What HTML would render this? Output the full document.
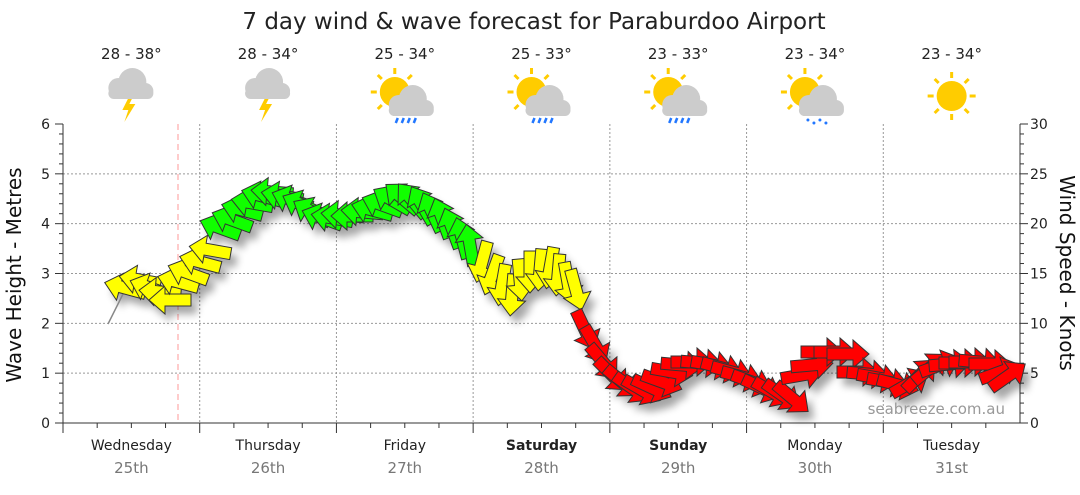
<!DOCTYPE html>
<html><head><meta charset="utf-8"><style>
body{margin:0;background:#fff;}
svg text{font-family:"DejaVu Sans","Liberation Sans",sans-serif;}
</style></head><body>
<svg id="s" width="1080" height="490" xmlns="http://www.w3.org/2000/svg">
<defs>
<filter id="sh" x="-20%" y="-20%" width="140%" height="160%"><feGaussianBlur stdDeviation="4"/></filter>
<g id="sun"><g stroke="#fc0" stroke-width="3"><line x1="0" y1="-24" x2="0" y2="-18"/><line x1="0" y1="24" x2="0" y2="18"/><line x1="-24" y1="0" x2="-18" y2="0"/><line x1="24" y1="0" x2="18" y2="0"/><line x1="-17" y1="-17" x2="-13" y2="-13"/><line x1="17" y1="17" x2="13" y2="13"/><line x1="-17" y1="17" x2="-13" y2="13"/><line x1="17" y1="-17" x2="13" y2="-13"/></g><circle r="15" fill="#fc0"/></g>
<g id="cloud" fill="#ccc"><circle cx="-9" cy="2" r="10"/><circle cx="5" cy="-4" r="14"/><circle cx="18" cy="5" r="8"/><rect x="-19" y="2" width="45" height="11" rx="5.5"/></g>
<g id="bolt"><polygon points="2,0 -5,14 1,14 -3,26 8,8 2,8 6,0" fill="#fc0"/></g>
</defs>
<text x="534" y="29" font-size="23" text-anchor="middle" fill="#222">7 day wind &amp; wave forecast for Paraburdoo Airport</text>
<g id="grid"></g>
<line x1="178" y1="124" x2="178" y2="423" stroke="#f99" stroke-dasharray="6,4"/>
<g id="shadow" filter="url(#sh)" opacity="0.35"></g>
<polyline points="108,324 124,292" stroke="#888" fill="none" stroke-width="1.5"/>
<g id="arrows" stroke="#333" stroke-width="1"></g>
<text x="1005" y="414" font-size="15" text-anchor="end" fill="#999">seabreeze.com.au</text>
<text transform="translate(21,275) rotate(-90)" font-size="20" text-anchor="middle" fill="#111">Wave Height - Metres</text>
<text transform="translate(1060,273) rotate(90)" font-size="20" text-anchor="middle" fill="#111">Wind Speed - Knots</text>
<g id="icons"></g>
</svg>
<script>
const NS="http://www.w3.org/2000/svg";
function el(p,t,a,txt){const e=document.createElementNS(NS,t);for(const k in a)e.setAttribute(k,a[k]);if(txt!==undefined)e.textContent=txt;p.appendChild(e);return e;}
const g=document.getElementById('grid');
const L=63,R=1020,T=124,B=423,dw=(R-L)/7;
for(let i=0;i<=6;i++){const y=B-i*(B-T)/6;
 if(i>0&&i<6)el(g,'line',{x1:L,x2:R,y1:y,y2:y,stroke:'#999','stroke-dasharray':'2,2'});
 el(g,'text',{x:50,y:y+5,'font-size':14,'text-anchor':'end',fill:'#222'},i);
 el(g,'text',{x:1030,y:y+5,'font-size':14,fill:'#222'},i*5);
 el(g,'line',{x1:L-8,x2:L,y1:y,y2:y,stroke:'#333'});el(g,'line',{x1:R,x2:R+8,y1:y,y2:y,stroke:'#333'});
 if(i<6)for(let m=1;m<5;m++){const yy=y-m*(B-T)/30;el(g,'line',{x1:L-4,x2:L,y1:yy,y2:yy,stroke:'#333'});el(g,'line',{x1:R,x2:R+4,y1:yy,y2:yy,stroke:'#333'});}
}
el(g,'line',{x1:L,x2:L,y1:T,y2:B,stroke:'#333'});el(g,'line',{x1:R,x2:R,y1:T,y2:B,stroke:'#333'});
el(g,'line',{x1:L,x2:R,y1:B,y2:B,stroke:'#333'});
const days=['Wednesday','Thursday','Friday','Saturday','Sunday','Monday','Tuesday'],dates=['25th','26th','27th','28th','29th','30th','31st'];
const temps=['28 - 38°','28 - 34°','25 - 34°','25 - 33°','23 - 33°','23 - 34°','23 - 34°'];
for(let d=0;d<7;d++){const x0=L+d*dw,cx=x0+dw/2;
 if(d>0)el(g,'line',{x1:x0,x2:x0,y1:T,y2:B,stroke:'#999','stroke-dasharray':'2,2'});
 el(g,'line',{x1:x0,x2:x0,y1:B,y2:B+10,stroke:'#333'});
 for(let m=1;m<4;m++){const xx=x0+m*dw/4;el(g,'line',{x1:xx,x2:xx,y1:B,y2:B+5,stroke:'#333'});}
 el(g,'text',{x:cx,y:450,'font-size':14,'text-anchor':'middle',fill:'#222','font-weight':(d==3||d==4)?'bold':'normal'},days[d]);
 el(g,'text',{x:cx,y:473,'font-size':15,'text-anchor':'middle',fill:'#777'},dates[d]);
 el(g,'text',{x:cx,y:59,'font-size':15,'text-anchor':'middle',fill:'#222'},temps[d]);
}
const ic=document.getElementById('icons');
for(let d=0;d<7;d++){const cx=L+d*dw+dw/2;
 if(d<2){el(ic,'use',{href:'#bolt',x:cx-4,y:96});el(ic,'use',{href:'#cloud',x:cx-4,y:86});}
 else if(d<6){el(ic,'use',{href:'#sun',x:cx-10,y:92});el(ic,'use',{href:'#cloud',x:cx+3,y:103});
  if(d<5){for(let k=0;k<4;k++)el(ic,'line',{x1:cx-7+k*6,y1:118,x2:cx-9+k*6,y2:123,stroke:'#27f','stroke-width':2.5});}
  else{for(let k=0;k<4;k++)el(ic,'circle',{cx:cx-7+k*6,cy:120+(k%2)*3,r:1.5,fill:'#27f'});}}
 else el(ic,'use',{href:'#sun',x:cx,y:96});
}
const Y='#ffff00',G='#11ff00',Rd='#ff0000';
const A=[
[125,288,195,Y],[140,280,190,Y],[150,288,200,Y],[160,292,185,Y],[170,300,180,Y],[178,282,195,Y],[188,273,200,Y],[200,262,195,Y],[210,250,190,Y],
[220,228,200,G],[232,220,200,G],[242,210,195,G],[252,203,190,G],[262,196,195,G],[272,192,185,G],[282,196,190,G],[292,200,200,G],[302,205,205,G],[312,212,210,G],[322,218,200,G],[332,218,190,G],[342,215,185,G],[352,216,180,G],[362,212,185,G],[372,210,195,G],[382,205,200,G],[392,200,210,G],[402,198,220,G],[412,200,230,G],[422,205,240,G],[432,212,245,G],[442,218,250,G],[452,228,250,G],[462,238,255,G],[470,245,260,G],
[482,262,105,Y],[492,275,110,Y],[502,285,100,Y],[512,295,95,Y],[520,280,85,Y],[530,272,90,Y],[540,270,95,Y],[550,268,100,Y],[558,275,95,Y],[568,283,80,Y],[576,290,75,Y],
[585,330,65,Rd],[595,345,60,Rd],[603,362,50,Rd],[612,375,45,Rd],[622,382,40,Rd],[632,388,35,Rd],[642,390,30,Rd],[652,388,25,Rd],[662,382,20,Rd],[672,372,10,Rd],[682,365,5,Rd],[692,362,0,Rd],[702,363,5,Rd],[712,365,10,Rd],[722,368,15,Rd],[732,372,15,Rd],[742,377,15,Rd],[752,382,20,Rd],[762,388,25,Rd],[772,392,30,Rd],[782,395,35,Rd],[792,398,40,Rd],[802,375,-10,Rd],[812,365,-5,Rd],[822,352,0,Rd],[835,352,0,Rd],[848,354,0,Rd],[858,372,0,Rd],[868,374,5,Rd],[878,378,10,Rd],[888,382,10,Rd],[898,385,15,Rd],[910,383,-30,Rd],[920,375,-45,Rd],[930,368,-40,Rd],[940,365,-20,Rd],[950,364,-5,Rd],[960,363,0,Rd],[970,362,0,Rd],[980,362,5,Rd],[990,364,0,Rd],[1000,372,-20,Rd],[1008,376,-35,Rd]];
const pts="-21,-6 5,-6 5,-14 21,0 5,14 5,6 -21,6";
const sh=document.getElementById('shadow'),ar=document.getElementById('arrows');
for(const [x,y,a,c] of A){
 el(sh,'polygon',{points:pts,transform:`translate(${x+6},${y+8}) rotate(${a})`,fill:'#000'});
 el(ar,'polygon',{points:pts,transform:`translate(${x},${y}) rotate(${a})`,fill:c});
}
</script>
</body></html>
